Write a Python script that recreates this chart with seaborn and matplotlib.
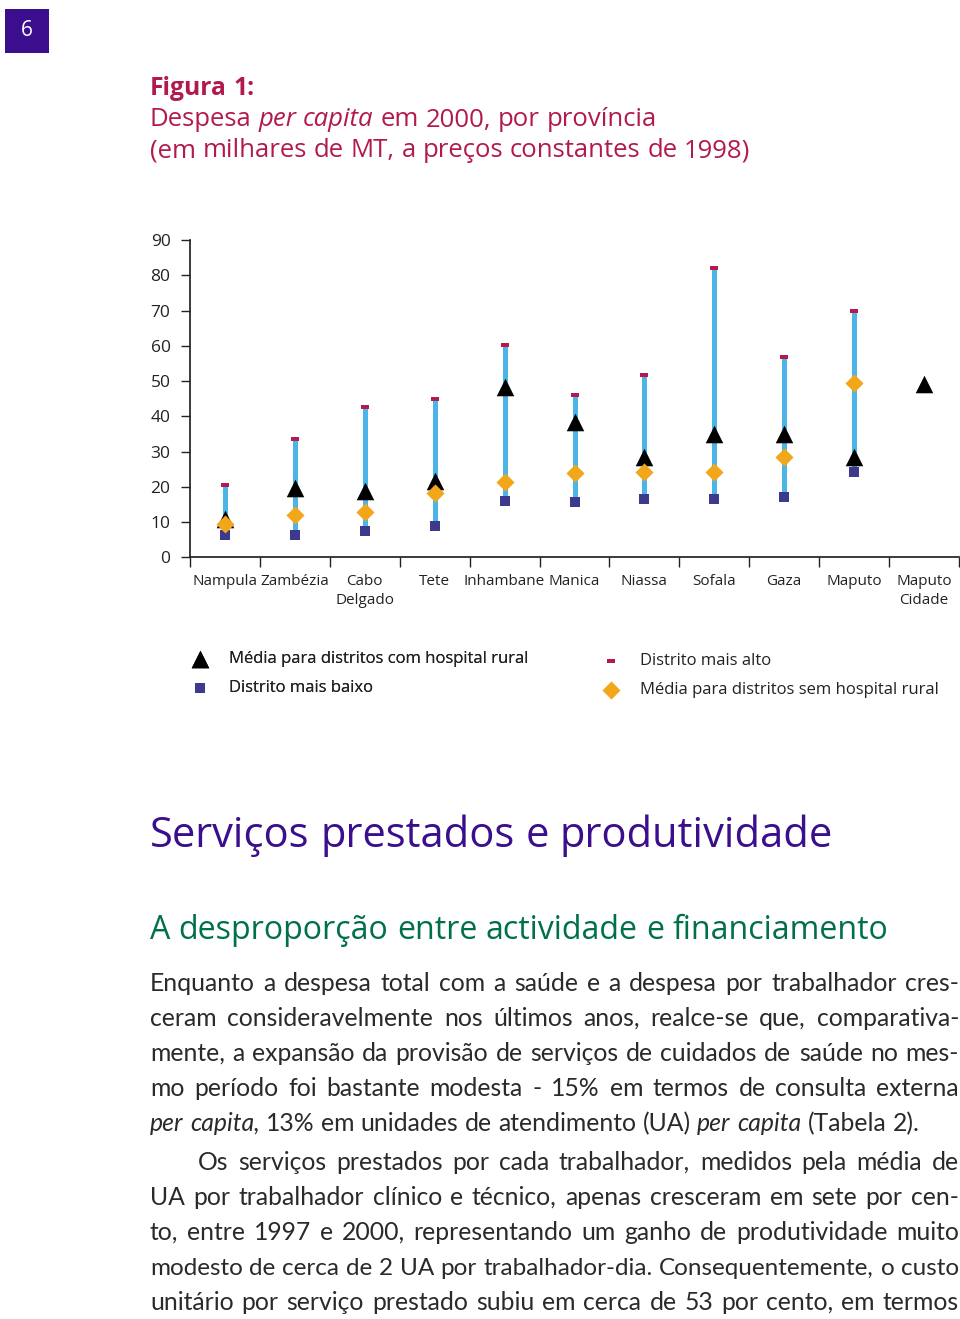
''' Figura 1: despesa per capita em 2000, por provincia '''
import numpy as np
import matplotlib
matplotlib.use('Agg')
import matplotlib.pyplot as plt
from matplotlib import font_manager
from matplotlib.patches import Rectangle
import seaborn as sns

#--- dados (milhares de MT, precos constantes de 1998)
provincias = ['Nampula', 'Zambézia', 'Cabo\nDelgado', 'Tete', 'Inhambane', 'Manica',
              'Niassa', 'Sofala', 'Gaza', 'Maputo', 'Maputo\nCidade']
com_hospital = [11.0, 19.6, 18.9, 21.6, 48.4, 38.5, 28.4, 35.0, 35.1, 28.5, 49.1]
sem_hospital = [9.4, 12.0, 12.9, 18.3, 21.4, 24.0, 24.1, 24.1, 28.5, 49.5, np.nan]
mais_alto = [20.5, 33.5, 42.7, 44.9, 60.2, 46.1, 51.7, 82.1, 56.9, 69.8, np.nan]
mais_baixo = [6.3, 6.3, 7.4, 8.9, 16.0, 15.8, 16.6, 16.6, 17.2, 24.2, np.nan]
y_ticks = list(range(0, 91, 10))

W, H = 960, 1319
ROXO, CARMIM, VERDE = '#3a0e8c', '#b21a4e', '#00704c'
AZUL, VERMELHO, QUADRADO, LARANJA = '#4cb4e7', '#b5194d', '#3d3a8e', '#f2a71b'


def pick(*names):
    for n in names:
        try:
            font_manager.findfont(font_manager.FontProperties(family=n),
                                  fallback_to_default=False)
            return n
        except ValueError:
            pass
    return 'DejaVu Sans'


sns.set_theme(style='ticks')
SANS = pick('Open Sans', 'Noto Sans', 'Lato')
CORPO = pick('Lato', 'Liberation Sans', 'Noto Sans')
plt.rcParams['font.family'] = [SANS, 'DejaVu Sans']
plt.rcParams['axes.edgecolor'] = '#222222'

fig = plt.figure(figsize=(W / 100, H / 100), dpi=100)
fig.patch.set_facecolor('white')
R = fig.canvas.get_renderer()


def fx(px):
    return px / W


def fy(py):
    return 1 - py / H


#--- grafico
ax = fig.add_axes([fx(190), fy(557.3), 769 / W, 317.3 / H])
ax.set_facecolor('white')
x = np.arange(len(provincias))
ax.vlines(x, mais_baixo, mais_alto, color=AZUL, lw=3.6, zorder=1)
traco = np.array([(-1, -0.4), (1, -0.4), (1, 0.4), (-1, 0.4)])
sns.scatterplot(x=x, y=mais_alto, marker=traco, s=30, color=VERMELHO, linewidth=0,
                ax=ax, zorder=3, label='Distrito mais alto')
sns.scatterplot(x=x, y=com_hospital, marker='^', s=160, color='black', linewidth=0,
                ax=ax, zorder=3, label='Média para distritos com hospital rural')
sns.scatterplot(x=x, y=mais_baixo, marker='s', s=42, color=QUADRADO, linewidth=0,
                ax=ax, zorder=4, label='Distrito mais baixo')
sns.scatterplot(x=x, y=sem_hospital, marker='D', s=85, color=LARANJA, linewidth=0,
                ax=ax, zorder=5, label='Média para distritos sem hospital rural')
if ax.get_legend():
    ax.get_legend().remove()

ax.set_xlim(-0.5, len(provincias) - 0.5)
ax.set_ylim(0, 90)
ax.set_yticks(y_ticks)
ax.set_xticks(x, provincias)
ax.set_xticks(np.arange(-0.5, len(provincias), 1), minor=True)
ax.tick_params(axis='x', which='major', length=0, pad=12, labelsize=11, colors='#222222')
ax.tick_params(axis='x', which='minor', length=7, width=1, direction='out', color='#222222')
ax.tick_params(axis='y', length=6.5, width=1, pad=7.5, labelsize=12.5, colors='#222222')
for lab in ax.get_xticklabels():
    lab.set_linespacing(1.35)
ax.set_xlabel('')
ax.set_ylabel('')
sns.despine(ax=ax)
ax.grid(False)

#--- legenda em duas colunas
hs, ls = ax.get_legend_handles_labels()
h = dict(zip(ls, hs))
opts = dict(loc='upper left', frameon=False, fontsize=12, borderpad=0, borderaxespad=0,
            handlelength=2, handletextpad=0.78, labelspacing=0.8, scatterpoints=1,
            labelcolor='#222222')
col1 = ['Média para distritos com hospital rural', 'Distrito mais baixo']
col2 = ['Distrito mais alto', 'Média para distritos sem hospital rural']
leg1 = fig.legend([h[k] for k in col1], col1, bbox_to_anchor=(fx(183), fy(651)), **opts)
fig.add_artist(leg1)
fig.legend([h[k] for k in col2], col2, bbox_to_anchor=(fx(594), fy(653)), **opts)


#--- textos da pagina
def largura(t):
    return t.get_window_extent(R).width


def espaco(size, family, style='normal', weight='normal'):
    a = fig.text(0, 0, 'a a', fontsize=size, family=family, style=style, weight=weight)
    b = fig.text(0, 0, 'aa', fontsize=size, family=family, style=style, weight=weight)
    s = largura(a) - largura(b)
    a.remove()
    b.remove()
    return s


def linha(x0, yb, texto, size, color, family, x1=None, justify=False, weight='normal'):
    palavras = []
    for w in texto.split(' '):
        it = w.startswith('_')
        palavras.append((w.replace('_', ''), it))

    def medir(sz):
        ts = [fig.text(0, 0, w, fontsize=sz, family=[family, 'DejaVu Sans'],
                       style='italic' if it else 'normal', weight=weight, color=color)
              for w, it in palavras]
        return ts, [largura(t) for t in ts]

    ts, ws = medir(size)
    sp = espaco(size, family, weight=weight)
    n = len(ws) - 1
    nat = sum(ws) + sp * n
    if x1 is not None and (not justify or nat > x1 - x0):
        for t in ts:
            t.remove()
        size = size * (x1 - x0) / nat
        ts, ws = medir(size)
        sp = espaco(size, family, weight=weight)
    if justify and x1 is not None and n > 0:
        gap = (x1 - x0 - sum(ws)) / n
    else:
        gap = sp
    xc = x0
    for t, w in zip(ts, ws):
        t.set_position((fx(xc), fy(yb)))
        t.set_va('baseline')
        xc += w + gap
    return size


# numero da pagina
fig.add_artist(Rectangle((fx(5), fy(53)), 44 / W, 44 / H, transform=fig.transFigure,
                         color=ROXO, lw=0))
fig.text(fx(27), fy(31), '6', color='white', fontsize=15, ha='center', va='center',
         family=SANS)

# titulo
linha(150, 95, 'Figura 1:', 15, CARMIM, SANS, x1=255, weight='bold')
st = linha(150, 157, '(em milhares de MT, a preços constantes de 1998)', 17, CARMIM, SANS, x1=753)
linha(150, 126.5, 'Despesa _per_ _capita_ em 2000, por província', st, CARMIM, SANS)

# cabecalhos
linha(150, 847, 'Serviços prestados e produtividade', 30, ROXO, SANS, x1=833)
linha(150, 939, 'A desproporção entre actividade e financiamento', 21, VERDE, SANS, x1=890)

# corpo do texto
corpo = [
    ('Enquanto a despesa total com a saúde e a despesa por trabalhador cres-', 150, 991, True),
    ('ceram consideravelmente nos últimos anos, realce-se que, comparativa-', 150, 1026, True),
    ('mente, a expansão da provisão de serviços de cuidados de saúde no mes-', 150, 1061, True),
    ('mo período foi bastante modesta - 15% em termos de consulta externa', 150, 1096, True),
    ('_per_ _capita_, 13% em unidades de atendimento (UA) _per_ _capita_ (Tabela 2).', 150, 1131, False),
    ('Os serviços prestados por cada trabalhador, medidos pela média de', 198, 1170, True),
    ('UA por trabalhador clínico e técnico, apenas cresceram em sete por cen-', 150, 1205, True),
    ('to, entre 1997 e 2000, representando um ganho de produtividade muito', 150, 1240, True),
    ('modesto de cerca de 2 UA por trabalhador-dia. Consequentemente, o custo', 150, 1275, True),
    ('unitário por serviço prestado subiu em cerca de 53 por cento, em termos', 150, 1310, True),
]
for txt, x0, yb, just in corpo:
    linha(x0, yb, txt, 17.8, '#2a2a2a', CORPO, x1=959 if just else None, justify=just)

plt.savefig('out.png', dpi=100)
